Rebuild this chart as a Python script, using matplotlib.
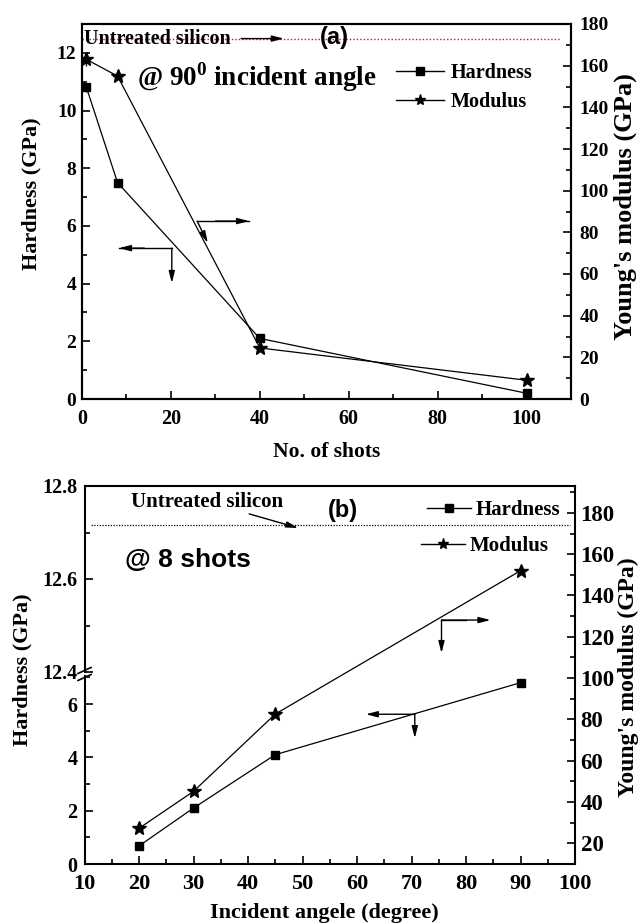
import numpy as np
import matplotlib.pyplot as plt
from matplotlib.lines import Line2D

plt.rcParams['font.family'] = 'Liberation Serif'
plt.rcParams['font.weight'] = 'bold'
plt.rcParams['mathtext.fontset'] = 'custom'
plt.rcParams['mathtext.bf'] = 'Liberation Serif:bold'
plt.rcParams['mathtext.rm'] = 'Liberation Serif:bold'

# (a) hardness / modulus vs number of shots, 90 deg incidence
shots = [1, 8, 40, 100]
hard_a = [10.8, 7.5, 2.1, 0.2]
hard_a_err = [0.15, 0, 0, 0]
mod_a = [163, 155, 24.5, 9]
mod_a_err = [3, 0, 0, 0]
untreated_mod = 173

# (b) hardness / modulus vs incident angle, 8 shots
angle = [20, 30, 45, 90]
hard_b = [0.68, 2.1, 4.1, 6.8]
mod_b = [27.3, 45.2, 82.6, 152]
untreated_mod_b = 174.2

W, H = 641, 924
fig = plt.figure(figsize=(W / 100, H / 100), dpi=100)


def box(l, r, t, b):
    return [l / W, 1 - b / H, (r - l) / W, (b - t) / H]


def arrow(ax, x0, y0, x1, y1):
    ax.annotate('', xy=(x1, y1), xytext=(x0, y0),
                arrowprops=dict(arrowstyle='-|>,head_length=0.7,head_width=0.18',
                                color='black', lw=1.0, shrinkA=0, shrinkB=0))


def style(ax, size):
    ax.tick_params(which='both', direction='in', width=1.2, labelsize=size)
    ax.tick_params(which='major', length=6)
    ax.tick_params(which='minor', length=3.5)
    for s in ax.spines.values():
        s.set_linewidth(1.5)
    for lab in ax.get_xticklabels() + ax.get_yticklabels():
        lab.set_fontweight('bold')


# ---------------- panel (a) ----------------
ax = fig.add_axes(box(82, 571, 24, 399))
ax2 = ax.twinx()

ax.errorbar(shots, hard_a, yerr=hard_a_err, color='black', lw=0.9, marker='s',
            ms=6, mfc='black', elinewidth=0.9, capsize=0, label='Hardness')
ax2.errorbar(shots, mod_a, yerr=mod_a_err, color='black', lw=0.9, marker='*',
             ms=10, mfc='black', elinewidth=0.9, capsize=0, label='Modulus')

ax.set_xlim(0, 110)
ax.set_ylim(0, 13)
ax2.set_ylim(0, 180)
ax.set_xticks(np.arange(0, 101, 20))
ax.set_xticks(np.arange(10, 111, 10), minor=True)
ax.set_yticks(np.arange(0, 13, 2))
ax.set_yticks(np.arange(1, 13, 2), minor=True)
ax2.set_yticks(np.arange(0, 181, 20))
ax2.set_yticks(np.arange(10, 180, 20), minor=True)

style(ax, 14)
style(ax2, 14)
ax.tick_params(axis='x', labelsize=14.5, pad=7)
ax.tick_params(axis='y', pad=4)
ax2.tick_params(axis='y', pad=6)
for lab in ax.get_xticklabels():
    lab.set_fontweight('bold')

ax.set_xlabel('No. of shots', fontsize=15.5, fontweight='bold', va='center')
ax.xaxis.set_label_coords(0.501, -0.141)
ax.set_ylabel('Hardness (GPa)', fontsize=16, fontweight='bold', va='center')
ax.yaxis.set_label_coords((31 - 82) / 489, (399 - 194) / 375)
ax2.set_ylabel("Young's modulus (GPa)", fontsize=19, fontweight='bold',
               va='center', rotation=90)
ax2.yaxis.set_label_coords((625 - 82) / 489, (399 - 207) / 375)

ax2.hlines(untreated_mod, 0, 107.5, colors='red', linestyles=(0, (1, 1.5)), lw=1.0)
ax2.text(0.45, untreated_mod, 'Untreated silicon', fontsize=14.5,
         fontweight='bold', ha='left', va='center')
arrow(ax2, 35.8, untreated_mod, 45.4, untreated_mod)
ax2.text(56.8, 173.5, '(a)', fontsize=17, fontweight='bold',
         family='Liberation Sans', ha='center', va='center')
ax2.text(12.4, 154.6, r'@ 90$^{\mathbf{0}}$ incident angle', fontsize=19.5,
         fontweight='bold', ha='left', va='center')

# arrows pointing to the axes
ax2.plot([25.9, 37.6], [85.4, 85.4], color='black', lw=1.0)
arrow(ax2, 30.0, 85.4, 37.6, 85.4)
arrow(ax2, 25.9, 85.4, 28.3, 74.9)
ax.plot([20.2, 8.3], [5.23, 5.23], color='black', lw=1.0)
arrow(ax, 14.0, 5.23, 8.3, 5.23)
arrow(ax, 20.2, 5.23, 20.2, 4.02)

h1 = Line2D([], [], color='black', lw=1.0, marker='s', ms=6)
h2 = Line2D([], [], color='black', lw=1.0, marker='*', ms=8)
leg = ax2.legend([h1, h2], ['Hardness', 'Modulus'], loc='upper left',
                 bbox_to_anchor=(396 / W, 1 - 63 / H),
                 bbox_transform=fig.transFigure, frameon=False,
                 prop={'family': 'Liberation Serif', 'weight': 'bold', 'size': 14.5},
                 handlelength=2.4, handletextpad=0.3, labelspacing=0.45,
                 borderpad=0, borderaxespad=0)

# ---------------- panel (b) ----------------
ax_lo = fig.add_axes(box(84.6, 575, 676, 864))
ax_hi = fig.add_axes(box(84.6, 575, 486, 672))
ax_m = fig.add_axes(box(84.6, 575, 486, 864))
ax_m.patch.set_alpha(0)

ax_lo.plot(angle, hard_b, color='black', lw=0.9, marker='s', ms=6)
ax_m.plot(angle, mod_b, color='black', lw=0.9, marker='*', ms=10)

for a in (ax_lo, ax_hi, ax_m):
    a.set_xlim(10, 100)
ax_lo.set_ylim(0, 7.05)
ax_hi.set_ylim(12.4, 12.8)
ax_m.set_ylim(10, 193)

ax_lo.set_yticks([0, 2, 4, 6])
ax_lo.set_yticks([1, 3, 5, 7], minor=True)
ax_hi.set_yticks([12.4, 12.6, 12.8])
ax_hi.set_yticks([12.5, 12.7], minor=True)
ax_hi.set_yticklabels(['12.4', '12.6', '12.8'])
ax_m.set_xticks(np.arange(10, 101, 10))
ax_m.set_xticks(np.arange(15, 100, 10), minor=True)
ax_m.set_yticks(np.arange(20, 181, 20))
ax_m.set_yticks(np.arange(30, 191, 20), minor=True)
ax_m.yaxis.tick_right()
ax_m.yaxis.set_label_position('right')

for a in (ax_lo, ax_hi):
    style(a, 14.5)
    a.tick_params(axis='y', pad=5)
    a.xaxis.set_visible(False)
    for s in ('top', 'right', 'bottom'):
        a.spines[s].set_visible(False)
    a.patch.set_alpha(0)
style(ax_m, 16.5)
ax_m.tick_params(axis='x', labelsize=16, pad=7.5)
ax_m.tick_params(axis='y', pad=4)
ax_m.spines['left'].set_visible(False)
for lab in ax_m.get_xticklabels() + ax_m.get_yticklabels():
    lab.set_fontweight('bold')

ax_m.set_xlabel('Incident angele (degree)', fontsize=16, fontweight='bold',
                va='center')
ax_m.xaxis.set_label_coords((324 - 84.6) / 490.4, -(913 - 864) / 378)
ax_m.set_ylabel("Young's modulus (GPa)", fontsize=17, fontweight='bold',
                va='center', rotation=90)
ax_m.yaxis.set_label_coords((628 - 84.6) / 490.4, (864 - 677) / 378)
fig.text(22.5 / W, 1 - 670 / H, 'Hardness (GPa)', fontsize=16, fontweight='bold',
         rotation=90, ha='center', va='center')

# axis break marks
for yb in (670.5, 677.5):
    fig.add_artist(Line2D([78 / W, 91 / W], [1 - (yb + 3) / H, 1 - (yb - 3) / H],
                          color='black', lw=1.2))

ax_m.hlines(untreated_mod_b, 11.2, 99.1, colors='black', linestyles=(0, (1, 1.2)), lw=0.9)
ax_m.text(18.5, 185.3, 'Untreated silicon', fontsize=15, fontweight='bold',
          ha='left', va='center')
arrow(ax_m, 40.2, 179.5, 49.2, 172.7)
ax_m.text(57.5, 181, '(b)', fontsize=17, fontweight='bold',
          family='Liberation Sans', ha='center', va='center')
ax_m.text(17.4, 157.2, '@ 8 shots', fontsize=19, fontweight='bold',
          family='Liberation Sans', ha='left', va='center')

ax_m.plot([75.5, 80.0], [128.1, 128.1], color='black', lw=1.0)
arrow(ax_m, 75.5, 128.1, 84.5, 128.1)
arrow(ax_m, 75.5, 128.1, 75.5, 112.1)
arrow(ax_m, 70.6, 82.5, 61.6, 82.5)
arrow(ax_m, 70.6, 82.5, 70.6, 70.9)

legp = {'family': 'Liberation Serif', 'weight': 'bold', 'size': 15}
lb1 = ax_m.legend([h1], ['Hardness'], loc='upper left',
                  bbox_to_anchor=(427 / W, 1 - 500 / H), bbox_transform=fig.transFigure,
                  frameon=False, prop=legp, handlelength=2.1, handletextpad=0.25,
                  borderpad=0, borderaxespad=0)
ax_m.add_artist(lb1)
ax_m.legend([h2], ['Modulus'], loc='upper left',
            bbox_to_anchor=(421 / W, 1 - 536 / H), bbox_transform=fig.transFigure,
            frameon=False, prop=legp, handlelength=2.1, handletextpad=0.25,
            borderpad=0, borderaxespad=0)

fig.savefig('out.png', dpi=100)
